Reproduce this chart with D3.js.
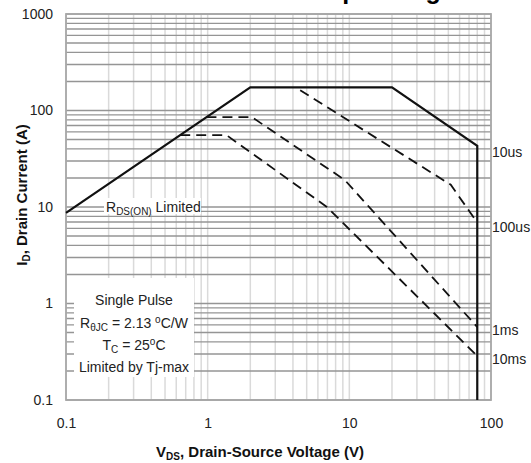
<!DOCTYPE html>
<html>
<head>
<meta charset="utf-8">
<script src="https://cdn.jsdelivr.net/npm/d3@7"></script>
<style>
  html, body { margin: 0; padding: 0; background: #fff; }
  svg { display: block; font-family: "Liberation Sans", Arial, sans-serif; }
</style>
</head>
<body>
<svg id="chart" width="531" height="463"></svg>
<script>
// Safe operating area: drain current vs drain-source voltage, log-log
const xTickValues = [0.1, 1, 10, 100];
const xTickLabels = ["0.1", "1", "10", "100"];
const yTickValues = [0.1, 1, 10, 100, 1000];
const yTickLabels = ["0.1", "1", "10", "100", "1000"];

const seriesNames = ["10us", "100us", "1ms", "10ms"];
// 10us curve includes the RDS(on) limit and the 80 V drop
const vds10us = [0.1, 2, 20, 80, 80];
const id10us  = [8.7, 174, 174, 43, 0.1];
const vds100us = [4.5, 52, 80];
const id100us  = [162, 17, 6.9];
const vds1ms = [0.98, 2.05, 9.3, 80];
const id1ms  = [85.5, 85.5, 19, 0.57];
const vds10ms = [0.64, 1.36, 6.9, 80];
const id10ms  = [55.5, 55.5, 10.07, 0.286];

const series = [
  { name: seriesNames[0], v: vds10us, i: id10us, dashed: false, labelNudge: 6, skipLast: true },
  { name: seriesNames[1], v: vds100us, i: id100us, dashed: true, labelNudge: 5 },
  { name: seriesNames[2], v: vds1ms, i: id1ms, dashed: true, labelNudge: 3 },
  { name: seriesNames[3], v: vds10ms, i: id10ms, dashed: true, labelNudge: 3 }
];

const svg = d3.select("#chart");
const plotL = 66, plotR = 491, plotT = 14, plotB = 400;

const x = d3.scaleLog().domain([0.1, 100]).range([plotL, plotR]);
const y = d3.scaleLog().domain([0.1, 1000]).range([plotB, plotT]);

// title (runs off the top edge; only its lowest strokes show)
svg.append("text")
  .attr("x", 263).attr("y", -1)
  .attr("font-size", 25).attr("font-weight", "bold").attr("fill", "#000")
  .text("Safe Operating Area");

// minor + major grid values per decade
function decadeValues(lo, hi) {
  const out = [];
  for (let e = Math.round(Math.log10(lo)); e < Math.round(Math.log10(hi)); e++) {
    for (let m = 1; m <= 9; m++) out.push(m * Math.pow(10, e));
  }
  out.push(hi);
  return out;
}

const grid = svg.append("g");
grid.selectAll("line.v").data(decadeValues(0.1, 100)).join("line")
  .attr("class", "v")
  .attr("x1", d => x(d)).attr("x2", d => x(d))
  .attr("y1", plotT).attr("y2", plotB)
  .attr("stroke", "#dadada").attr("stroke-width", 1.5);
grid.selectAll("line.h").data(decadeValues(0.1, 1000)).join("line")
  .attr("class", "h")
  .attr("y1", d => y(d)).attr("y2", d => y(d))
  .attr("x1", plotL).attr("x2", plotR)
  .attr("stroke", "#959595").attr("stroke-width", 1.4);

// white boxes behind the annotations
svg.append("rect").attr("x", 104).attr("y", 198).attr("width", 97).attr("height", 16).attr("fill", "#fff");
svg.append("rect").attr("x", 74).attr("y", 278).attr("width", 120).attr("height", 99).attr("fill", "#fff");

// plot frame
svg.append("rect")
  .attr("x", plotL).attr("y", plotT).attr("width", plotR - plotL).attr("height", plotB - plotT)
  .attr("fill", "none").attr("stroke", "#a8a8a8").attr("stroke-width", 1.8);

// axes (labels only)
const yAxis = d3.axisLeft(y).tickValues(yTickValues)
  .tickFormat((d, i) => yTickLabels[i]).tickSize(0).tickPadding(13);
const gy = svg.append("g").attr("transform", `translate(${plotL},0)`).call(yAxis);
const xAxis = d3.axisBottom(x).tickValues(xTickValues)
  .tickFormat((d, i) => xTickLabels[i]).tickSize(0).tickPadding(18);
const gx = svg.append("g").attr("transform", `translate(0,${plotB})`).call(xAxis);
[gx, gy].forEach(g => {
  g.select(".domain").remove();
  g.selectAll("text").attr("font-size", 14).attr("fill", "#222")
    .attr("font-family", "Liberation Sans, Arial, sans-serif");
});

// curves
const line = d3.line().x(d => x(d[0])).y(d => y(d[1]));
series.forEach(s => {
  const pts = s.v.map((v, k) => [v, s.i[k]]);
  svg.append("path")
    .attr("d", line(pts))
    .attr("fill", "none")
    .attr("stroke", "#111")
    .attr("stroke-width", s.dashed ? 1.8 : 2.2)
    .attr("stroke-dasharray", s.dashed ? "10,6" : null)
    .attr("stroke-linejoin", "miter");
  const endIdx = s.skipLast ? pts.length - 2 : pts.length - 1;
  svg.append("text")
    .attr("x", plotR + 1)
    .attr("y", y(pts[endIdx][1]) + s.labelNudge)
    .attr("dy", "0.35em")
    .attr("font-size", 14).attr("fill", "#222")
    .text(s.name);
});

// RDS(on) limited annotation
const rds = svg.append("text").attr("x", 106).attr("y", 212).attr("font-size", 14).attr("fill", "#222");
rds.append("tspan").text("R");
rds.append("tspan").attr("font-size", 10).attr("dy", 3).text("DS(ON)");
rds.append("tspan").attr("dy", -3).text(" Limited");

// test-condition block
const cx = 134;
const note = svg.append("g").attr("font-size", 14).attr("fill", "#222").attr("text-anchor", "middle");
note.append("text").attr("x", cx).attr("y", 305).text("Single Pulse");
const r2 = note.append("text").attr("x", cx).attr("y", 328);
r2.append("tspan").text("R");
r2.append("tspan").attr("font-size", 10).attr("dy", 3).text("θJC");
r2.append("tspan").attr("dy", -3).text(" = 2.13 ");
r2.append("tspan").attr("font-size", 10).attr("dy", -5).text("o");
r2.append("tspan").attr("dy", 5).text("C/W");
const r3 = note.append("text").attr("x", cx).attr("y", 350);
r3.append("tspan").text("T");
r3.append("tspan").attr("font-size", 10).attr("dy", 3).text("C");
r3.append("tspan").attr("dy", -3).text(" = 25");
r3.append("tspan").attr("font-size", 10).attr("dy", -5).text("o");
r3.append("tspan").attr("dy", 5).text("C");
note.append("text").attr("x", cx).attr("y", 372).text("Limited by Tj-max");

// axis titles
const xt = svg.append("text").attr("x", 260).attr("y", 457)
  .attr("text-anchor", "middle").attr("font-size", 15).attr("font-weight", "bold").attr("fill", "#111");
xt.append("tspan").text("V");
xt.append("tspan").attr("font-size", 10).attr("dy", 3).text("DS");
xt.append("tspan").attr("dy", -3).text(", Drain-Source Voltage (V)");

const yt = svg.append("text")
  .attr("transform", "translate(27,195) rotate(-90)")
  .attr("text-anchor", "middle").attr("font-size", 15).attr("font-weight", "bold").attr("fill", "#111");
yt.append("tspan").text("I");
yt.append("tspan").attr("font-size", 10).attr("dy", 3).text("D");
yt.append("tspan").attr("dy", -3).text(", Drain Current (A)");
</script>
</body>
</html>
